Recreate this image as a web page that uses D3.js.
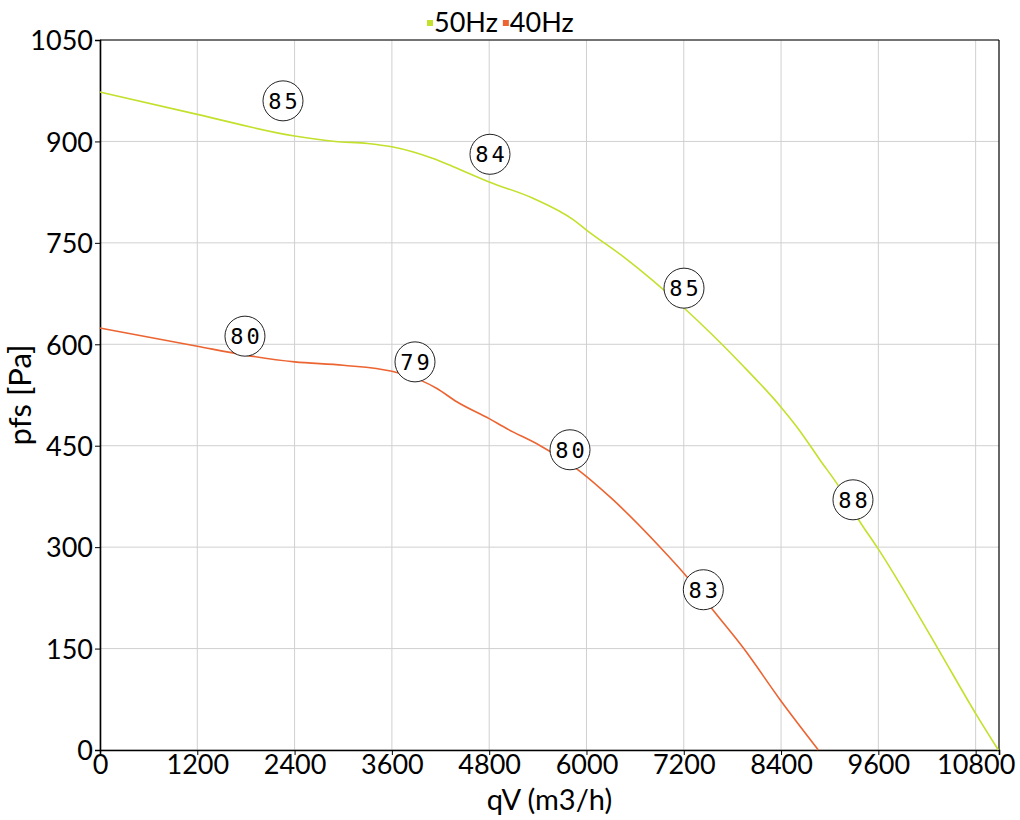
<!DOCTYPE html>
<html>
<head>
<meta charset="utf-8">
<script src="https://cdn.jsdelivr.net/npm/d3@7"></script>
<style>
  body { margin: 0; background: #fff; }
  text { font-family: Lato, "Noto Sans", sans-serif; }
</style>
</head>
<body>
<script>
const width = 1020;
const height = 820;
const margin = { top: 40, right: 21, bottom: 70, left: 100 };

// 50Hz curve
const qv50 = [0, 1200, 2400, 2900, 3300, 3600, 4100, 4350, 4800, 5340, 5840, 6000, 6450, 7200, 7900, 8400, 8600, 8880, 9100, 9370, 9600, 10320, 10810, 11080];
const pfs50 = [973, 940, 908, 900, 897, 892, 875, 863, 840, 816, 784, 769, 730, 654, 572, 507, 477, 429, 392, 338, 297, 153, 52, 0];

// 40Hz curve
const qv40 = [0, 1200, 1790, 2400, 3000, 3600, 3950, 4150, 4400, 4800, 5020, 5430, 5900, 6310, 6900, 7240, 7560, 7940, 8390, 8860];
const pfs40 = [624, 597, 584, 574, 569, 560, 547, 535, 515, 490, 475, 450, 414, 372, 301, 256, 207, 150, 74, 0];

// bubble labels (efficiency)
const lab50x = [2257, 4810, 7203, 9287];
const lab50y = [960, 881, 683, 370];
const lab50t = ["85", "84", "85", "88"];
const lab40x = [1788, 3885, 5797, 7441];
const lab40y = [612, 574, 444, 237];
const lab40t = ["80", "79", "80", "83"];

const xTicks = [0, 1200, 2400, 3600, 4800, 6000, 7200, 8400, 9600, 10800];
const yTicks = [0, 150, 300, 450, 600, 750, 900, 1050];
const seriesNames = ["50Hz", "40Hz"];
const color = d3.scaleOrdinal().domain(seriesNames).range(["#c3e02c", "#ec6431"]);

const svg = d3.select("body").append("svg")
  .attr("width", width)
  .attr("height", height);

const x = d3.scaleLinear().domain([0, 11088]).range([margin.left, width - margin.right]);
const y = d3.scaleLinear().domain([0, 1050]).range([height - margin.bottom, margin.top]);

// grid
svg.append("g")
  .selectAll("line.vx")
  .data(xTicks)
  .enter().append("line")
  .attr("x1", d => x(d)).attr("x2", d => x(d))
  .attr("y1", y(0)).attr("y2", y(1050))
  .attr("stroke", "#d0d0d0").attr("stroke-width", 1);

svg.append("g")
  .selectAll("line.hy")
  .data(yTicks)
  .enter().append("line")
  .attr("x1", x.range()[0]).attr("x2", x.range()[1])
  .attr("y1", d => y(d)).attr("y2", d => y(d))
  .attr("stroke", "#d0d0d0").attr("stroke-width", 1);

// frame top / right
svg.append("line")
  .attr("x1", x.range()[0]).attr("x2", x.range()[1])
  .attr("y1", y(1050)).attr("y2", y(1050))
  .attr("stroke", "#000").attr("stroke-width", 1.2);
svg.append("line")
  .attr("x1", x.range()[1]).attr("x2", x.range()[1])
  .attr("y1", y(0)).attr("y2", y(1050))
  .attr("stroke", "#000").attr("stroke-width", 1.2);

// axes
const xAxis = svg.append("g")
  .attr("transform", "translate(0," + y(0) + ")")
  .call(d3.axisBottom(x).tickValues(xTicks).tickSize(5).tickPadding(0).tickFormat(d3.format("d")));
const yAxis = svg.append("g")
  .attr("transform", "translate(" + x(0) + ",0)")
  .call(d3.axisLeft(y).tickValues(yTicks).tickSize(5).tickPadding(2).tickFormat(d3.format("d")));

[xAxis, yAxis].forEach(a => {
  a.select(".domain").attr("stroke", "#000").attr("stroke-width", 1.6);
  a.selectAll(".tick line").attr("stroke", "#000");
  a.selectAll(".tick text")
    .attr("fill", "#000")
    .style("font-family", "Lato, sans-serif")
    .style("font-size", "27px");
});
xAxis.selectAll(".tick text").attr("dy", "0.7em");
yAxis.selectAll(".tick text").attr("dy", "0.36em");

// axis titles
svg.append("text")
  .attr("x", (x.range()[0] + x.range()[1]) / 2)
  .attr("y", 810)
  .attr("text-anchor", "middle")
  .style("font-size", "29px")
  .text("qV (m3/h)");

svg.append("text")
  .attr("transform", "translate(31," + y(525) + ") rotate(-90)")
  .attr("text-anchor", "middle")
  .style("font-size", "31px")
  .text("pfs [Pa]");

// curves
const line = d3.line()
  .x(d => x(d[0]))
  .y(d => y(d[1]))
  .curve(d3.curveMonotoneX);

const curves = [
  { name: "50Hz", pts: d3.zip(qv50, pfs50) },
  { name: "40Hz", pts: d3.zip(qv40, pfs40) }
];

svg.append("g")
  .selectAll("path")
  .data(curves)
  .enter().append("path")
  .attr("d", d => line(d.pts))
  .attr("fill", "none")
  .attr("stroke", d => color(d.name))
  .attr("stroke-width", 1.6);

// bubbles
const bubbles = d3.zip(lab50x, lab50y, lab50t).concat(d3.zip(lab40x, lab40y, lab40t));

const bub = svg.append("g")
  .selectAll("g")
  .data(bubbles)
  .enter().append("g")
  .attr("transform", d => "translate(" + x(d[0]) + "," + y(d[1]) + ")");

bub.append("circle")
  .attr("r", 20)
  .attr("fill", "#fff")
  .attr("stroke", "#222")
  .attr("stroke-width", 1);

bub.append("text")
  .attr("text-anchor", "middle")
  .attr("dy", "0.36em")
  .attr("dx", 1.5)
  .style("font-family", "'DejaVu Sans Mono', monospace")
  .style("font-size", "22px")
  .style("letter-spacing", "3px")
  .text(d => d[2]);

// legend
const legend = svg.append("g").attr("transform", "translate(427,22)");
let lx = 0;
seriesNames.forEach(name => {
  legend.append("rect")
    .attr("x", lx).attr("y", -2)
    .attr("width", 6).attr("height", 6)
    .attr("fill", color(name));
  const t = legend.append("text")
    .attr("x", lx + 7)
    .attr("dy", "0.36em")
    .style("font-size", "27px")
    .text(name);
  lx += 7 + t.node().getComputedTextLength() + 5;
});
</script>
</body>
</html>
